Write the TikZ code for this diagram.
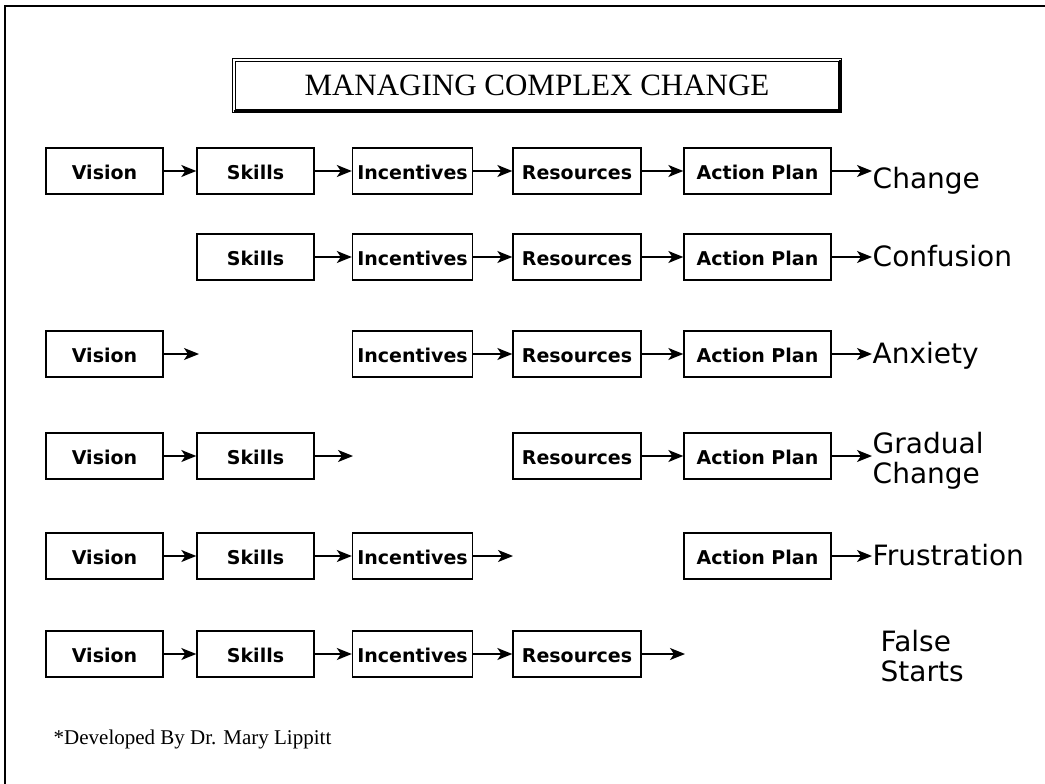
\documentclass[tikz,border=0pt]{standalone}
\usepackage{fontspec}
\setmainfont{Liberation Serif}
\newfontfamily\boxfont{DejaVu Sans}
\usetikzlibrary{arrows.meta}

\begin{document}
\begin{tikzpicture}[x=1pt, y=-1pt, line width=1.4pt,
			box/.style={
				draw,
				font = \boxfont\bfseries\fontsize{19}{21}\selectfont,
				text height = 16pt,
				text depth = 0pt,
				minimum height = 46pt,
				inner sep = 0pt},
			result/.style={
				align = left,
				font = \boxfont\fontsize{28}{30}\selectfont,
				inner sep = 0pt},
			arr/.style={-{Stealth[length=15pt, width=12pt, inset=4pt]}}]
			\useasboundingbox (0,0) rectangle (1045,784);
			\draw[line width=2pt] (5,784) -- (5,6) -- (1045,6);
			% title
			\node (title) at (537,85.5) [draw, double, double distance=2pt, line width=0.9pt,
				minimum width=606pt, minimum height=51pt,
				font=\fontsize{31}{34}\selectfont] {MANAGING COMPLEX CHANGE};
			\draw[line width=2.5pt] (title.south west) -| (title.north east);
			% change
			\node (v1) at (104.5,171) [box, minimum width=117pt] {Vision};
			\node (s1) at (255.5,171) [box, minimum width=117pt] {Skills};
			\node (i1) at (412.5,171) [box, minimum width=120pt] {Incentives};
			\node (r1) at (577,171) [box, minimum width=128pt] {Resources};
			\node (a1) at (757.5,171) [box, minimum width=147pt] {Action Plan};
			\node (c1) at (872,188) [result, anchor=base west] {Change};
			\draw[arr] (v1) -- (s1);
			\draw[arr] (s1) -- (i1);
			\draw[arr] (i1) -- (r1);
			\draw[arr] (r1) -- (a1);
			\draw[arr] (a1.east) -- (a1.east -| c1.west);
			% confusion
			\node (s2) at (255.5,257) [box, minimum width=117pt] {Skills};
			\node (i2) at (412.5,257) [box, minimum width=120pt] {Incentives};
			\node (r2) at (577,257) [box, minimum width=128pt] {Resources};
			\node (a2) at (757.5,257) [box, minimum width=147pt] {Action Plan};
			\node (c2) at (872,266) [result, anchor=base west] {Confusion};
			\draw[arr] (s2) -- (i2);
			\draw[arr] (i2) -- (r2);
			\draw[arr] (r2) -- (a2);
			\draw[arr] (a2.east) -- (a2.east -| c2.west);
			% anxiety
			\node (v3) at (104.5,354) [box, minimum width=117pt] {Vision};
			\coordinate (e3) at (199,354);
			\node (i3) at (412.5,354) [box, minimum width=120pt] {Incentives};
			\node (r3) at (577,354) [box, minimum width=128pt] {Resources};
			\node (a3) at (757.5,354) [box, minimum width=147pt] {Action Plan};
			\node (c3) at (872,363) [result, anchor=base west] {Anxiety};
			\draw[arr] (v3) -- (e3);
			\draw[arr] (i3) -- (r3);
			\draw[arr] (r3) -- (a3);
			\draw[arr] (a3.east) -- (a3.east -| c3.west);
			% gradual change
			\node (v4) at (104.5,456) [box, minimum width=117pt] {Vision};
			\node (s4) at (255.5,456) [box, minimum width=117pt] {Skills};
			\coordinate (e4) at (353,456);
			\node (r4) at (577,456) [box, minimum width=128pt] {Resources};
			\node (a4) at (757.5,456) [box, minimum width=147pt] {Action Plan};
			\node (c4) at (872,461) [result, anchor=west] {Gradual\\Change};
			\draw[arr] (v4) -- (s4);
			\draw[arr] (s4) -- (e4);
			\draw[arr] (r4) -- (a4);
			\draw[arr] (a4.east) -- (a4.east -| c4.west);
			% frustration
			\node (v5) at (104.5,556) [box, minimum width=117pt] {Vision};
			\node (s5) at (255.5,556) [box, minimum width=117pt] {Skills};
			\node (i5) at (412.5,556) [box, minimum width=120pt] {Incentives};
			\coordinate (e5) at (513,556);
			\node (a5) at (757.5,556) [box, minimum width=147pt] {Action Plan};
			\node (c5) at (872,565) [result, anchor=base west] {Frustration};
			\draw[arr] (v5) -- (s5);
			\draw[arr] (s5) -- (i5);
			\draw[arr] (i5) -- (e5);
			\draw[arr] (a5.east) -- (a5.east -| c5.west);
			% false starts
			\node (v6) at (104.5,654) [box, minimum width=117pt] {Vision};
			\node (s6) at (255.5,654) [box, minimum width=117pt] {Skills};
			\node (i6) at (412.5,654) [box, minimum width=120pt] {Incentives};
			\node (r6) at (577,654) [box, minimum width=128pt] {Resources};
			\coordinate (e6) at (685,654);
			\node (c6) at (880,656) [result, anchor=west] {False\\Starts};
			\draw[arr] (v6) -- (s6);
			\draw[arr] (s6) -- (i6);
			\draw[arr] (i6) -- (r6);
			\draw[arr] (r6) -- (e6);
			\node (note) at (53,744) [anchor=base west, inner sep=0pt,
				font=\fontsize{21}{24}\selectfont] {*Developed By Dr. Mary Lippitt};
\end{tikzpicture}
\end{document}
